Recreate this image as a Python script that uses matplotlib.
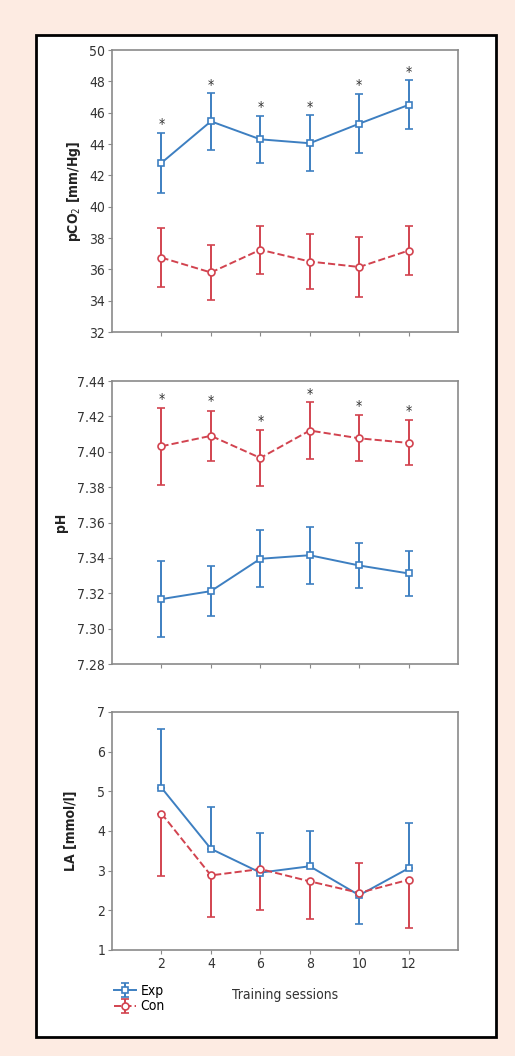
import matplotlib
matplotlib.use("Agg")
import matplotlib.pyplot as plt
from matplotlib.patches import Rectangle

plt.rcParams['font.family'] = ['DejaVu Sans']
plt.rcParams['font.stretch'] = 'condensed'

sessions = [2, 4, 6, 8, 10, 12]

# pCO2 [mm/Hg]
pco2_exp = [42.8, 45.45, 44.3, 44.05, 45.3, 46.5]
pco2_exp_err = [1.9, 1.8, 1.5, 1.8, 1.9, 1.57]
pco2_con = [36.75, 35.8, 37.25, 36.5, 36.15, 37.2]
pco2_con_err = [1.9, 1.75, 1.53, 1.75, 1.9, 1.57]
pco2_stars = [45.25, 47.75, 46.35, 46.35, 47.75, 48.6]

# pH
ph_exp = [7.3167, 7.3212, 7.3395, 7.3415, 7.3357, 7.3312]
ph_exp_err = [0.0213, 0.0141, 0.0162, 0.016, 0.0129, 0.0127]
ph_con = [7.4031, 7.409, 7.3965, 7.412, 7.4076, 7.405]
ph_con_err = [0.0217, 0.0143, 0.0157, 0.016, 0.013, 0.0127]
ph_stars = [7.4298, 7.4285, 7.4174, 7.4327, 7.4259, 7.4231]

# LA [mmol/l]  (one-sided bars)
la_exp = [5.09, 3.55, 2.95, 3.11, 2.38, 3.06]
la_exp_lo = [0, 0, 0, 0, 0.73, 0]
la_exp_hi = [1.49, 1.06, 1.0, 0.9, 0, 1.15]
la_con = [4.44, 2.88, 3.04, 2.73, 2.44, 2.77]
la_con_lo = [1.57, 1.05, 1.04, 0.96, 0, 1.21]
la_con_hi = [0, 0, 0, 0, 0.75, 0]

blue = '#3d7fc1'
red = '#d2434f'
bg = '#fdebe2'

fig = plt.figure(figsize=(5.15, 10.56), dpi=100, facecolor=bg)
frame = Rectangle((0.0699, 0.018), 0.8931, 0.9489, transform=fig.transFigure,
                  facecolor='white', edgecolor='black', linewidth=2, zorder=-5)
fig.patches.append(frame)

ax1 = fig.add_axes([0.2175, 0.6856, 0.672, 0.267])
ax2 = fig.add_axes([0.2175, 0.3712, 0.672, 0.268])
ax3 = fig.add_axes([0.2175, 0.1004, 0.672, 0.2254])


def draw(ax, exp, exp_err, con, con_err):
    ax.errorbar(sessions, exp, yerr=exp_err, color=blue, lw=1.4, marker='s', ms=5,
                mfc='white', mec=blue, mew=1.2, capsize=3, elinewidth=1.4, capthick=1.2,
                label='Exp', zorder=3)
    ax.errorbar(sessions, con, yerr=con_err, color=red, lw=1.4, ls='--', marker='o', ms=5,
                mfc='white', mec=red, mew=1.2, capsize=3, elinewidth=1.4, capthick=1.2,
                label='Con', zorder=3)


def style(ax, ylim, yticks, fmt, ylabel, label_x):
    ax.set_xlim(0, 14)
    ax.set_ylim(*ylim)
    ax.set_xticks(sessions)
    ax.set_yticks(yticks)
    ax.set_yticklabels([fmt % v for v in yticks])
    for s in ax.spines.values():
        s.set_color('#8a8a8a')
        s.set_linewidth(1.2)
    ax.tick_params(direction='out', length=3, width=0.8, color='#8a8a8a',
                   labelsize=10, labelcolor='#333333', pad=2)
    ax.set_ylabel(ylabel, fontsize=10, fontweight='bold', color='#222222')
    ax.yaxis.set_label_coords(label_x, 0.5)


draw(ax1, pco2_exp, pco2_exp_err, pco2_con, pco2_con_err)
for x, y in zip(sessions, pco2_stars):
    ax1.text(x, y, '*', ha='center', va='center', fontsize=10, color='#333333')
style(ax1, (32, 50), list(range(32, 51, 2)), '%d', 'pCO$_2$ [mm/Hg]', -0.084)
ax1.set_xticklabels([])

draw(ax2, ph_exp, ph_exp_err, ph_con, ph_con_err)
for x, y in zip(sessions, ph_stars):
    ax2.text(x, y, '*', ha='center', va='center', fontsize=10, color='#333333')
style(ax2, (7.28, 7.44), [7.28, 7.30, 7.32, 7.34, 7.36, 7.38, 7.40, 7.42, 7.44], '%.2f', 'pH', -0.127)
ax2.set_xticklabels([])

draw(ax3, la_exp, [la_exp_lo, la_exp_hi], la_con, [la_con_lo, la_con_hi])
style(ax3, (1, 7), list(range(1, 8)), '%d', 'LA [mmol/l]', -0.098)
ax3.set_xlabel('Training sessions', fontsize=10, color='#333333', labelpad=12)
ax3.legend(loc='upper left', bbox_to_anchor=(-0.01, -0.12), frameon=False, fontsize=10,
           handlelength=1.6, handletextpad=0.3, labelspacing=0.1, borderaxespad=0)

fig.savefig('out.png', dpi=100, facecolor=bg)
